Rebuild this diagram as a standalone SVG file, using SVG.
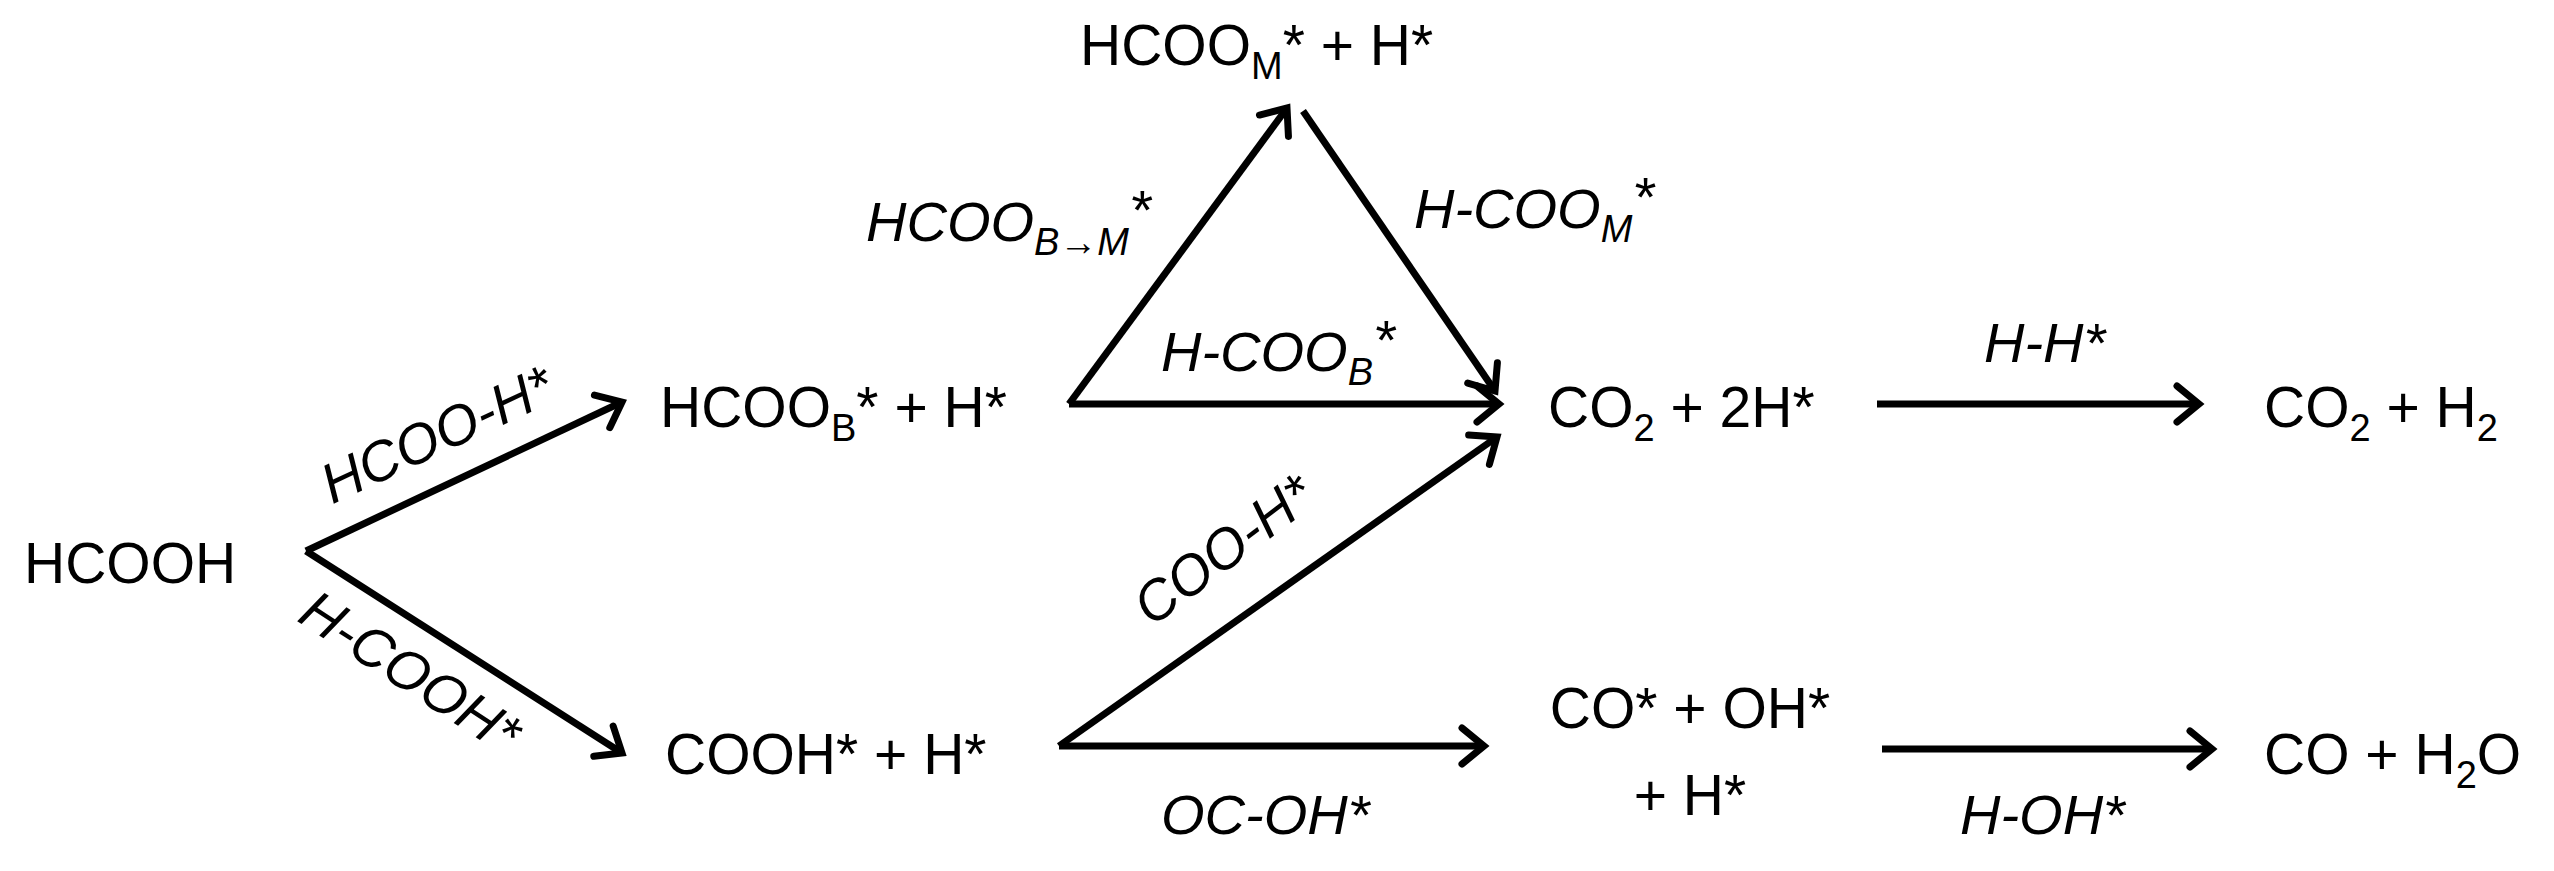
<svg xmlns="http://www.w3.org/2000/svg" width="2554" height="871" viewBox="0 0 2554 871">
<style>
.n{font-family:"Liberation Sans",Arial,sans-serif;font-size:57px;fill:#000}
.l{font-family:"Liberation Sans",Arial,sans-serif;font-size:56px;font-style:italic;fill:#000}
.s{font-size:38px}
line{stroke:#000;stroke-width:7;fill:none}
</style>
<defs>
<marker id="a" markerUnits="userSpaceOnUse" markerWidth="50" markerHeight="50" refX="36" refY="22" orient="auto">
<path d="M14,4 L36,22 L14,40" fill="none" stroke="#000" stroke-width="7" stroke-linecap="round" stroke-linejoin="miter"/>
</marker>
</defs>
<g id="connectors">
<line x1="306" y1="551" x2="622" y2="402" marker-end="url(#a)"/>
<line x1="306" y1="551" x2="622" y2="753" marker-end="url(#a)"/>
<line x1="1069" y1="404" x2="1499" y2="404" marker-end="url(#a)"/>
<line x1="1069" y1="404" x2="1287" y2="108" marker-end="url(#a)"/>
<line x1="1303" y1="111" x2="1495" y2="391" marker-end="url(#a)"/>
<line x1="1059" y1="746" x2="1497" y2="437" marker-end="url(#a)"/>
<line x1="1059" y1="746" x2="1484" y2="746" marker-end="url(#a)"/>
<line x1="1877" y1="404" x2="2199" y2="404" marker-end="url(#a)"/>
<line x1="1882" y1="749" x2="2212" y2="749" marker-end="url(#a)"/>
<text class="l" transform="translate(445,452) rotate(-25)" text-anchor="middle">HCOO-H*</text>
<text class="l" transform="translate(400,688) rotate(33)" text-anchor="middle">H-COOH*</text>
<text class="l" x="866" y="241">HCOO<tspan class="s" dy="14">B→M</tspan><tspan dy="-26">*</tspan></text>
<text class="l" x="1414" y="228">H-COO<tspan class="s" dy="14">M</tspan><tspan dy="-26">*</tspan></text>
<text class="l" x="1161" y="371">H-COO<tspan class="s" dy="14">B</tspan><tspan dy="-26">*</tspan></text>
<text class="l" transform="translate(1235,565) rotate(-37)" text-anchor="middle">COO-H*</text>
<text class="l" x="1161" y="834">OC-OH*</text>
<text class="l" x="1984" y="362">H-H*</text>
<text class="l" x="1960" y="834">H-OH*</text>
</g>
<g id="hcooh"><text class="n" x="24" y="583">HCOOH</text></g>
<g id="hcoob"><text class="n" x="660" y="427">HCOO<tspan class="s" dy="14">B</tspan><tspan dy="-14">* + H*</tspan></text></g>
<g id="hcoom"><text class="n" x="1080" y="65">HCOO<tspan class="s" dy="14">M</tspan><tspan dy="-14">* + H*</tspan></text></g>
<g id="cooh"><text class="n" x="665" y="774">COOH* + H*</text></g>
<g id="co2h"><text class="n" x="1548" y="427">CO<tspan class="s" dy="14">2</tspan><tspan dy="-14"> + 2H*</tspan></text></g>
<g id="co2h2"><text class="n" x="2264" y="427">CO<tspan class="s" dy="14">2</tspan><tspan dy="-14"> + H</tspan><tspan class="s" dy="14">2</tspan></text></g>
<g id="cooh2"><text class="n" x="1690" y="728" text-anchor="middle">CO* + OH*</text><text class="n" x="1690" y="815" text-anchor="middle">+ H*</text></g>
<g id="coh2o"><text class="n" x="2264" y="774">CO + H<tspan class="s" dy="14">2</tspan><tspan dy="-14">O</tspan></text></g>
</svg>
